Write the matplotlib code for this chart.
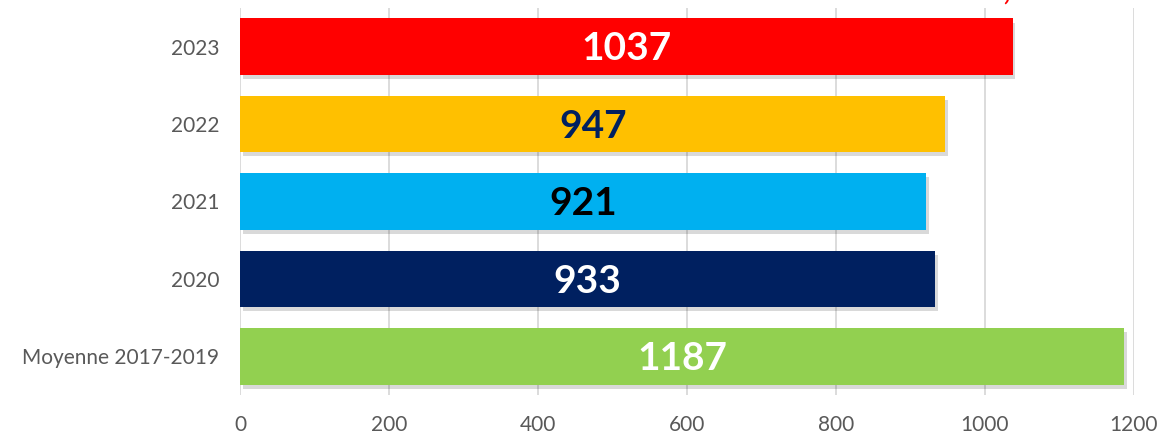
import matplotlib
matplotlib.use("Agg")
import matplotlib.pyplot as plt
import matplotlib.patheffects as pe

categories = ["Moyenne 2017-2019", "2020", "2021", "2022", "2023"]
values = [1187, 933, 921, 947, 1037]
bar_colors = ["#92D050", "#002060", "#00B0F0", "#FFC000", "#FF0000"]
label_colors = ["white", "white", "black", "#002060", "white"]
x_ticks = [0, 200, 400, 600, 800, 1000, 1200]

plt.rcParams["font.family"] = ["Lato", "DejaVu Sans"]

fig = plt.figure(figsize=(11.66, 4.38), dpi=100)
ax = fig.add_axes([0.2058, 0.098, 0.7667, 0.884])

bars = ax.barh(range(len(categories)), values, height=0.73, color=bar_colors, zorder=3)
for bar in bars:
    bar.set_path_effects([
        pe.SimplePatchShadow(offset=(2, -3), shadow_rgbFace="#000000", alpha=0.15),
        pe.Normal(),
    ])

for i, (v, c) in enumerate(zip(values, label_colors)):
    ax.text(v / 2, i - 0.03, str(v), ha="center", va="center", color=c,
            fontsize=28, fontweight="bold", zorder=4)

ax.set_xlim(0, 1200)
ax.set_ylim(-0.5, 4.5)
ax.set_xticks(x_ticks)
ax.set_yticks(range(len(categories)))
ax.set_yticklabels(categories)
ax.tick_params(axis="both", length=0, labelsize=15, colors="#595959")
ax.tick_params(axis="x", pad=14)
ax.tick_params(axis="y", pad=15)
ax.grid(axis="x", color="#D9D9D9", linewidth=1.3, zorder=0)
for s in ax.spines.values():
    s.set_visible(False)

# red annotation cut off at the top of the picture
fig.text(0.822, 0.990, "-12,6%", color="#FF0000", fontsize=22,
         fontweight="bold", style="italic", ha="left", va="bottom")

fig.savefig("out.png", dpi=100)
